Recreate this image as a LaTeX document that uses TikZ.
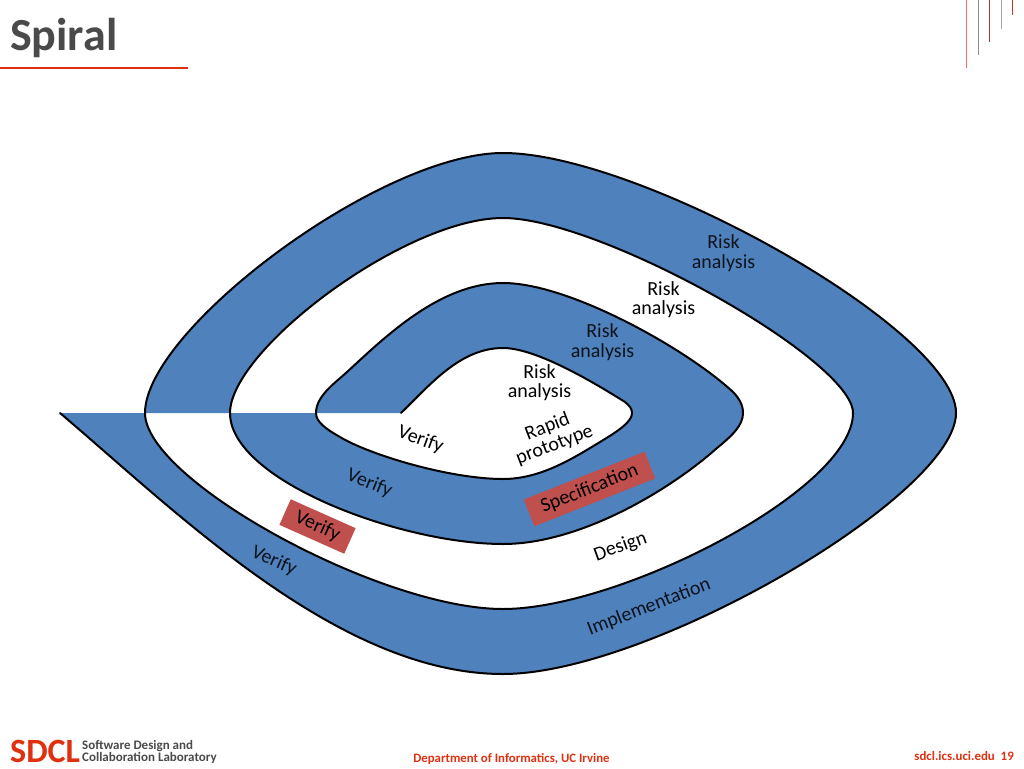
\documentclass[tikz,border=0pt]{standalone}
\usepackage{fontspec}
\setmainfont{Carlito}
\definecolor{band}{HTML}{4F81BD}
\definecolor{redbox}{HTML}{C0504D}
\definecolor{sdclred}{HTML}{E03010}
\definecolor{titlegrey}{HTML}{4A4A4A}
\tikzset{x=1pt,y=-1pt,
  lab/.style={font=\fontsize{20}{19.5}\selectfont,align=center,text=black,inner sep=0pt},
  blab/.style={lab,text=black!85!band},
  curveline/.style={draw=black,line width=2pt,line cap=round,line join=round},
  bandfill/.style={fill=band,draw=none},
  tick/.style={line width=1pt}}
\begin{document}
\begin{tikzpicture}
\useasboundingbox (0,0) rectangle (1024,768);
% band 1 fill
\fill[bandfill] (60,413) .. controls (180,515) and (340,674) .. (503,674)
  .. controls (650,674) and (956,495) .. (956,413)
  .. controls (956,330) and (640,153) .. (503,153)
  .. controls (380,153) and (145,330) .. (145,413)
  -- (230,413)
  .. controls (230,350) and (405,218) .. (503,218)
  .. controls (600,218) and (853,360) .. (853,413)
  .. controls (853,490) and (620,609) .. (503,609)
  .. controls (380,609) and (145,480) .. (145,413) -- cycle;
% band 2 fill
\fill[bandfill] (230,413) .. controls (230,480) and (400,544) .. (503,544)
  .. controls (580,544) and (670,490) .. (717,448)
  .. controls (733,435) and (743,425) .. (743,413)
  .. controls (743,405) and (739,398) .. (733,392)
  .. controls (688,350) and (570,283) .. (503,283)
  .. controls (440,283) and (385,337) .. (347,372)
  .. controls (335,383) and (316,396) .. (316,413)
  -- (401,413)
  .. controls (430,385) and (460,348) .. (503,348)
  .. controls (535,348) and (590,380) .. (625,402)
  .. controls (630,406) and (632,409) .. (632,413)
  .. controls (632,422) and (618,431) .. (600,442)
  .. controls (572,459) and (540,479) .. (503,479)
  .. controls (450,479) and (370,455) .. (340,437)
  .. controls (326,429) and (316,422) .. (316,413) -- cycle;
% curves
\draw[curveline] (60,413) .. controls (180,515) and (340,674) .. (503,674)
  .. controls (650,674) and (956,495) .. (956,413)
  .. controls (956,330) and (640,153) .. (503,153)
  .. controls (380,153) and (145,330) .. (145,413)
  .. controls (145,480) and (380,609) .. (503,609)
  .. controls (620,609) and (853,490) .. (853,413)
  .. controls (853,360) and (600,218) .. (503,218)
  .. controls (405,218) and (230,350) .. (230,413)
  .. controls (230,480) and (400,544) .. (503,544)
  .. controls (580,544) and (670,490) .. (717,448)
  .. controls (733,435) and (743,425) .. (743,413)
  .. controls (743,405) and (739,398) .. (733,392)
  .. controls (688,350) and (570,283) .. (503,283)
  .. controls (440,283) and (385,337) .. (347,372)
  .. controls (335,383) and (316,396) .. (316,413)
  .. controls (316,422) and (326,429) .. (340,437)
  .. controls (370,455) and (450,479) .. (503,479)
  .. controls (540,479) and (572,459) .. (600,442)
  .. controls (618,431) and (632,422) .. (632,413)
  .. controls (632,409) and (630,406) .. (625,402)
  .. controls (590,380) and (535,348) .. (503,348)
  .. controls (460,348) and (430,385) .. (401,413);
% labels
\node[blab] (r1) at (723.5,253) {Risk\\analysis};
\node[lab] (r2) at (663.5,299.5) {Risk\\analysis};
\node[blab] (r3) at (602.5,342) {Risk\\analysis};
\node[lab] (r4) at (539.5,382.5) {Risk\\analysis};
\node[lab,rotate=21] (rp) at (551,436) {Rapid\\prototype};
\node[lab,rotate=-20] (v1) at (420.5,440) {Verify};
\node[blab,rotate=-22] (v2) at (369.5,483.5) {Verify};
\node[fill=redbox,minimum width=71pt,minimum height=28pt,rotate=-24,lab] (v3) at (317.5,526.5) {Verify};
\node[blab,rotate=-24] (v4) at (274,561) {Verify};
\node[fill=redbox,minimum width=130pt,minimum height=28.8pt,rotate=21.6,lab] (sp) at (589.5,489) {Specification};
\node[lab,rotate=20] (de) at (620.5,547) {Design};
\node[blab,rotate=21] (im) at (649,607) {Implementation};
% title
\node[anchor=base west,inner sep=0pt,font=\fontsize{46}{46}\selectfont\bfseries,text=titlegrey] (title) at (10,50) {Spiral};
\coordinate (ta) at (0,68); \coordinate (tb) at (188,68);
\draw[sdclred,line width=1.6pt] (ta) -- (tb);
% corner ticks
\draw[tick,red!60!white] (966.5,0) -- (966.5,68);
\draw[tick,black!45] (978.5,0) -- (978.5,55);
\draw[tick,red!70!black!80] (989.5,0) -- (989.5,42);
\draw[tick,black!35] (1001,0) -- (1001,29);
\draw[tick,red!70!black!80] (1012,0) -- (1012,15);
% footer
\node[anchor=base west,inner sep=0pt,font=\fontsize{34}{34}\selectfont\bfseries,text=sdclred] (sdcl) at (10,762) {SDCL};
\node[anchor=west,inner sep=0pt,font=\fontsize{13}{12}\selectfont\bfseries,text=titlegrey,align=left] (sub) at (82,751.5) {Software Design and\\Collaboration Laboratory};
\node[anchor=base,inner sep=0pt,font=\fontsize{12.8}{13}\selectfont\bfseries,text=sdclred] (dept) at (511.5,762) {Department of Informatics, UC Irvine};
\node[anchor=base east,inner sep=0pt,font=\fontsize{12.9}{13}\selectfont\bfseries,text=sdclred] (site) at (1014,760) {sdcl.ics.uci.edu\ \ 19};
\end{tikzpicture}
\end{document}
